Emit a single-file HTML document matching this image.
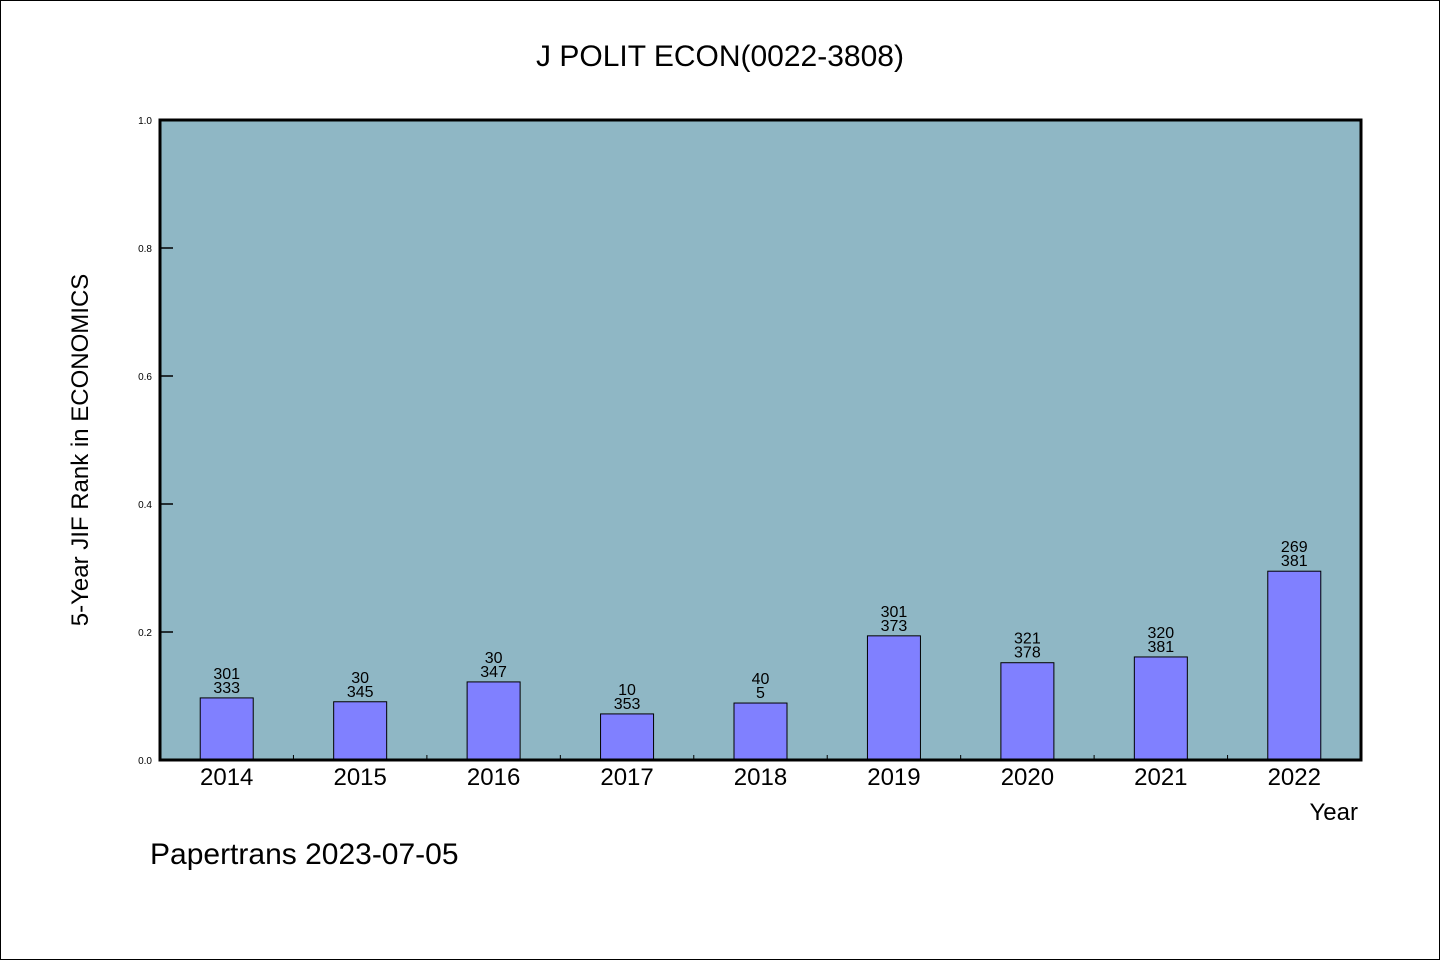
<!DOCTYPE html>
<html><head><meta charset="utf-8"><style>
body{margin:0;background:#fff}
svg text{font-family:"WenQuanYi Zen Hei","Liberation Sans",sans-serif;fill:#000}
</style></head><body>
<svg width="1440" height="960" xmlns="http://www.w3.org/2000/svg">
<rect x="0.5" y="0.5" width="1439" height="959" fill="#fff" stroke="#000"/>
<text x="720" y="66" font-size="30" text-anchor="middle">J POLIT ECON(0022-3808)</text>
<rect x="160" y="120" width="1201" height="640" fill="#8fb7c5"/>
<g id="marks"></g>
<rect x="160" y="120" width="1201" height="640" fill="none" stroke="#000" stroke-width="3"/>
<text transform="translate(88,450) rotate(-90)" font-size="24" text-anchor="middle">5-Year JIF Rank in ECONOMICS</text>
<text x="1358" y="820" font-size="24" text-anchor="end">Year</text>
<text x="150" y="864" font-size="30">Papertrans 2023-07-05</text>
</svg>
<script>
const years=["2014","2015","2016","2017","2018","2019","2020","2021","2022"];
const values=[0.097,0.091,0.122,0.072,0.089,0.194,0.152,0.161,0.295];
const topLabels=["301","30","30","10","40","301","321","320","269"];
const bottomLabels=["333","345","347","353","5","373","378","381","381"];
const yTicks=[0,0.2,0.4,0.6,0.8,1.0];
const NS="http://www.w3.org/2000/svg";
const X0=160,W=1201,Y0=760,H=640;
const band=W/years.length;
const xC=i=>X0+band*(i+0.5);
const yS=v=>Y0-v*H;
const g=document.getElementById('marks');
function mk(t,a){const e=document.createElementNS(NS,t);for(const k in a)e.setAttribute(k,a[k]);g.appendChild(e);return e;}
yTicks.forEach(v=>{
  const l=mk('line',{x1:X0,x2:X0+13,y1:yS(v),y2:yS(v),stroke:'#000','stroke-width':1.5});
  
  
  const t=mk('text',{x:152,y:yS(v)+4,'font-size':10,'text-anchor':'end'});
  t.textContent=v.toFixed(1);
  
  
});
for(let i=1;i<years.length;i++){
  const l=mk('line',{x1:X0+band*i,x2:X0+band*i,y1:Y0,y2:Y0-5,stroke:'#000','stroke-width':1});
  
  
}
years.forEach((yr,i)=>{
  const bw=53,y=yS(values[i]);
  const r=mk('rect',{x:xC(i)-bw/2,y:y,width:bw,height:Y0-y,fill:'#8080ff',stroke:'#000','stroke-width':1});
  
  
  const t1=mk('text',{x:xC(i),y:y-19,'font-size':16,'text-anchor':'middle'});
  t1.textContent=topLabels[i];
  
  
  const t2=mk('text',{x:xC(i),y:y-5,'font-size':16,'text-anchor':'middle'});
  t2.textContent=bottomLabels[i];
  
  
  const xl=mk('text',{x:xC(i),y:785,'font-size':24,'text-anchor':'middle'});
  xl.textContent=yr;
  
  
});
</script>
</body></html>
